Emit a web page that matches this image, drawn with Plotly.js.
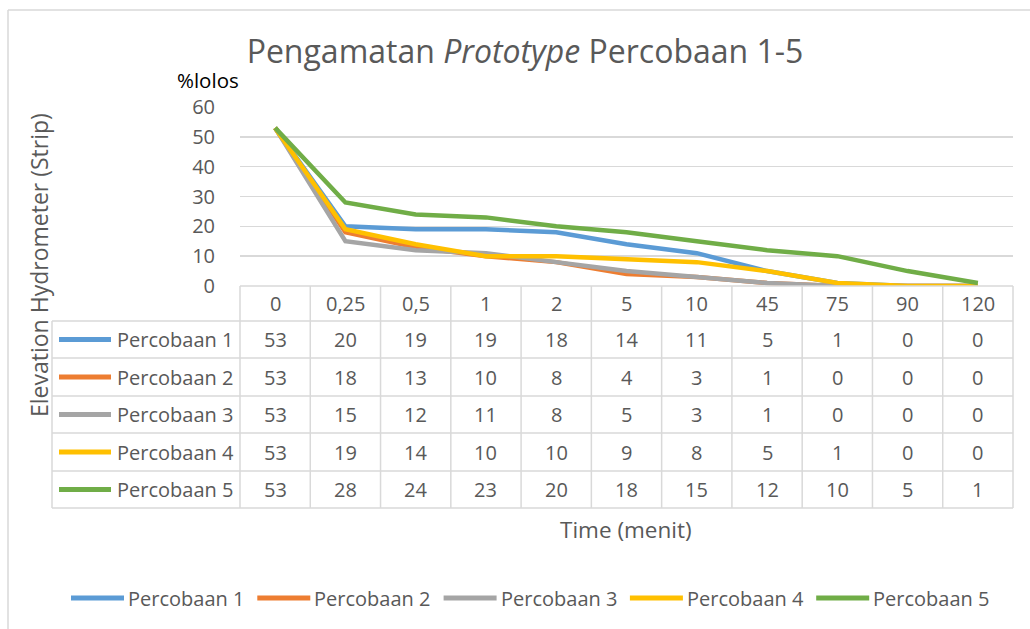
<!DOCTYPE html>
<html>
<head>
<meta charset="utf-8">
<script src="https://cdn.plot.ly/plotly-3.0.1.min.js"></script>
<style>html,body{margin:0;padding:0;background:#fff;}#chart{width:1030px;height:629px;}</style>
</head>
<body>
<div id="chart"></div>
<script>
// ---- Data ----
var categories = ['0', '0,25', '0,5', '1', '2', '5', '10', '45', '75', '90', '120'];
var seriesNames = ['Percobaan 1', 'Percobaan 2', 'Percobaan 3', 'Percobaan 4', 'Percobaan 5'];
var percobaan1 = [53, 20, 19, 19, 18, 14, 11, 5, 1, 0, 0];
var percobaan2 = [53, 18, 13, 10, 8, 4, 3, 1, 0, 0, 0];
var percobaan3 = [53, 15, 12, 11, 8, 5, 3, 1, 0, 0, 0];
var percobaan4 = [53, 19, 14, 10, 10, 9, 8, 5, 1, 0, 0];
var percobaan5 = [53, 28, 24, 23, 20, 18, 15, 12, 10, 5, 1];
var seriesColors = ['#5B9BD5', '#ED7D31', '#A5A5A5', '#FFC000', '#70AD47'];

var allSeries = [percobaan1, percobaan2, percobaan3, percobaan4, percobaan5];

// ---- Layout geometry (pixels) ----
var W = 1030, H = 629;
var PL = 240, PR = 1013, PT = 107, PB = 286;
function px(x) { return (x - PL) / (PR - PL); }
function py(y) { return (PB - y) / (PB - PT); }

var FONT = 'Open Sans, Liberation Sans, sans-serif';
var GREY = '#595959';
var LINEC = '#D9D9D9';

var traces = allSeries.map(function (vals, i) {
  return {
    x: categories.map(function (c, j) { return j; }),
    y: vals,
    type: 'scatter',
    mode: 'lines',
    name: seriesNames[i],
    line: { color: seriesColors[i], width: 4.5 },
    cliponaxis: false,
    showlegend: false,
    hoverinfo: 'skip'
  };
});

var shapes = [];
var annotations = [];

// outer chart border (top + left visible)
shapes.push({ type: 'line', xref: 'paper', yref: 'paper', x0: px(8), x1: px(1030), y0: py(10), y1: py(10), line: { color: LINEC, width: 1.5 } });
shapes.push({ type: 'line', xref: 'paper', yref: 'paper', x0: px(8), x1: px(8), y0: py(10), y1: py(629), line: { color: LINEC, width: 1.5 } });

// data table geometry
var rowLines = [286, 321, 358, 396, 433, 471, 508];
var tableLeft = 52;
var colW = (PR - PL) / categories.length;

rowLines.forEach(function (yv, k) {
  shapes.push({ type: 'line', xref: 'paper', yref: 'paper',
    x0: px(k === 0 ? PL : tableLeft), x1: px(PR), y0: py(yv), y1: py(yv),
    line: { color: LINEC, width: 1.5 } });
});
for (var c = 0; c <= categories.length; c++) {
  var xv = PL + c * colW;
  shapes.push({ type: 'line', xref: 'paper', yref: 'paper', x0: px(xv), x1: px(xv), y0: py(286), y1: py(508), line: { color: LINEC, width: 1.5 } });
}
shapes.push({ type: 'line', xref: 'paper', yref: 'paper', x0: px(tableLeft), x1: px(tableLeft), y0: py(321), y1: py(508), line: { color: LINEC, width: 1.5 } });

// header labels
categories.forEach(function (cat, j) {
  annotations.push({ xref: 'x', yref: 'paper', x: j, y: py((286 + 321) / 2), text: cat, showarrow: false,
    xanchor: 'center', yanchor: 'middle', font: { family: FONT, size: 20, color: GREY } });
});
// body rows
allSeries.forEach(function (vals, i) {
  var yc = (rowLines[i + 1] + rowLines[i + 2]) / 2;
  shapes.push({ type: 'line', xref: 'paper', yref: 'paper', x0: px(59), x1: px(111), y0: py(yc), y1: py(yc),
    line: { color: seriesColors[i], width: 5 } });
  annotations.push({ xref: 'paper', yref: 'paper', x: px(115), y: py(yc), text: seriesNames[i], showarrow: false,
    xanchor: 'left', yanchor: 'middle', font: { family: FONT, size: 20, color: GREY } });
  vals.forEach(function (v, j) {
    annotations.push({ xref: 'x', yref: 'paper', x: j, y: py(yc), text: String(v), showarrow: false,
      xanchor: 'center', yanchor: 'middle', font: { family: FONT, size: 20, color: GREY } });
  });
});

// bottom legend
var legStart = 71, legStep = 186.3, legY = 598;
seriesNames.forEach(function (nm, i) {
  var x0 = legStart + i * legStep;
  shapes.push({ type: 'line', xref: 'paper', yref: 'paper', x0: px(x0), x1: px(x0 + 53), y0: py(legY), y1: py(legY),
    line: { color: seriesColors[i], width: 5 } });
  annotations.push({ xref: 'paper', yref: 'paper', x: px(x0 + 55), y: py(legY), text: nm, showarrow: false,
    xanchor: 'left', yanchor: 'middle', font: { family: FONT, size: 20, color: GREY } });
});

// axis-related texts
annotations.push({ xref: 'paper', yref: 'paper', x: px(208), y: py(80), text: '%lolos', showarrow: false,
  xanchor: 'center', yanchor: 'middle', font: { family: FONT, size: 20.5, color: '#000000' } });
annotations.push({ xref: 'paper', yref: 'paper', x: px(39), y: py(265), text: 'Elevation Hydrometer (Strip)', showarrow: false,
  textangle: -90, xanchor: 'center', yanchor: 'middle', font: { family: FONT, size: 23, color: GREY } });
annotations.push({ xref: 'paper', yref: 'paper', x: px(626), y: py(529), text: 'Time (menit)', showarrow: false,
  xanchor: 'center', yanchor: 'middle', font: { family: FONT, size: 22.5, color: GREY } });

var layout = {
  width: W, height: H,
  margin: { l: PL, r: W - PR, t: PT, b: H - PB, pad: 0 },
  paper_bgcolor: '#ffffff', plot_bgcolor: '#ffffff',
  showlegend: false,
  title: {
    text: 'Pengamatan <i>Prototype</i> Percobaan 1-5',
    font: { family: FONT, size: 32, color: GREY },
    xref: 'container', yref: 'container', x: 525 / W, y: 1 - 52 / H, xanchor: 'center', yanchor: 'middle'
  },
  xaxis: {
    type: 'linear', range: [-0.5, categories.length - 0.5],
    showticklabels: false, showgrid: false, zeroline: false, showline: false, ticks: ''
  },
  yaxis: {
    range: [0, 60], dtick: 10, tick0: 0,
    showgrid: true, gridcolor: LINEC, gridwidth: 1.5,
    zeroline: false, showline: false,
    ticks: 'outside', ticklen: 20, tickcolor: 'rgba(0,0,0,0)',
    tickfont: { family: FONT, size: 20, color: GREY }
  },
  shapes: shapes,
  annotations: annotations
};

Plotly.newPlot('chart', traces, layout, { displayModeBar: false, staticPlot: true });
</script>
</body>
</html>
